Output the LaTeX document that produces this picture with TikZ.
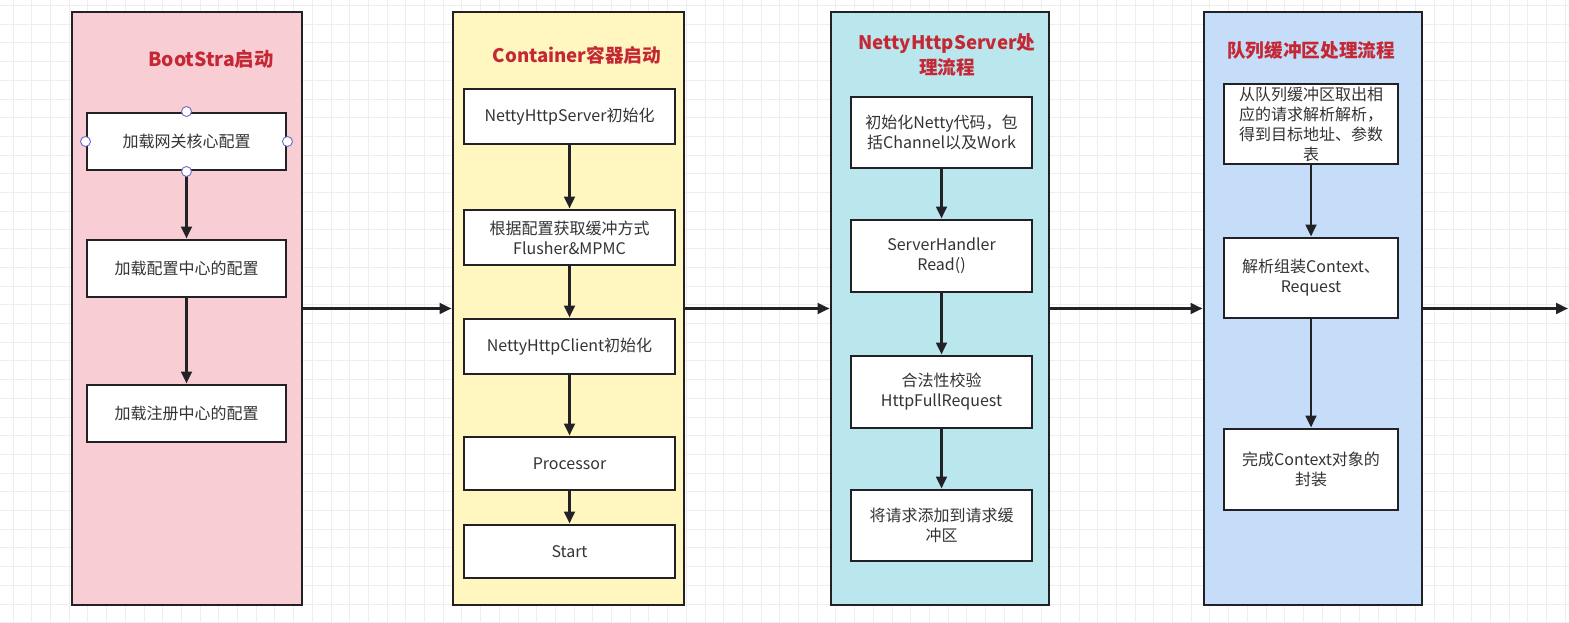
\documentclass[tikz,border=0pt]{standalone}
\usepackage{fontspec}
\setmainfont{Noto Sans CJK SC}
\usetikzlibrary{arrows.meta}
\newdimen\pxd \pxd=0.75pt
\definecolor{pinkc}{RGB}{248,206,212}
\definecolor{yellowc}{RGB}{255,246,192}
\definecolor{cyanc}{RGB}{186,231,238}
\definecolor{bluec}{RGB}{197,221,248}
\definecolor{titlec}{RGB}{196,40,52}
\definecolor{linec}{RGB}{34,34,38}
\definecolor{textc}{RGB}{51,51,51}
\definecolor{gridc}{RGB}{238,238,238}
\definecolor{handlec}{RGB}{110,110,200}
\tikzset{
  lane/.style={draw=linec, line width=2.2pt, minimum width=230\pxd, minimum height=593\pxd, inner sep=0pt},
  box/.style={draw=linec, fill=white, line width=2.2pt, align=center, inner sep=0pt,
    font=\fontsize{12}{15}\selectfont, text=textc},
  ttl/.style={font=\fontsize{14}{18.5}\selectfont\bfseries, text=titlec, align=center},
  conn/.style={draw=linec, line width=2pt, -{Triangle[length=9pt,width=8pt]}},
  handle/.style={circle, draw=handlec, fill=white, line width=0.7pt, minimum size=7.5pt, inner sep=0pt}
}
\begin{document}
\begin{tikzpicture}[x=0.75pt,y=-0.75pt]
\useasboundingbox (0,0) rectangle (1569,623);
\fill[white] (0,0) rectangle (1569,623);
% grid
\foreach \i in {0,...,83} \draw[gridc, line width=0.6pt] ({13+18.7*\i},0) -- ({13+18.7*\i},623);
\foreach \j in {0,...,33} \draw[gridc, line width=0.6pt] (0,{5.5+18.7*\j}) -- (1569,{5.5+18.7*\j});

% lanes
\node[lane, fill=pinkc] (L1) at (187,308.5) {};
\node[lane, fill=yellowc, minimum width=231\pxd] (L2) at (568.5,308.5) {};
\node[lane, fill=cyanc, minimum width=218\pxd] (L3) at (940,308.5) {};
\node[lane, fill=bluec, minimum width=218\pxd] (L4) at (1313,308.5) {};

% titles
\node[ttl, font=\fontsize{14.5}{18.5}\selectfont\bfseries] (T1) at (211,59) {BootStra启动};
\node[ttl] (T2) at (577,55) {Container容器启动};
\node[ttl] (T3) at (947,55) {NettyHttpServer处\\理流程};
\node[ttl] (T4) at (1311,50) {队列缓冲区处理流程};

% lane 1
\node[box, minimum width=199\pxd, minimum height=57\pxd] (a1) at (186.5,141.5) {加载网关核心配置};
\node[box, minimum width=199\pxd, minimum height=57\pxd] (a2) at (186.5,268.5) {加载配置中心的配置};
\node[box, minimum width=199\pxd, minimum height=57\pxd] (a3) at (186.5,413.5) {加载注册中心的配置};
\draw[conn] (a1) -- (a2);
\draw[conn] (a2) -- (a3);
\node[handle] (h1) at (a1.north) {};
\node[handle] (h2) at (a1.south) {};
\node[handle] (h3) at (a1.west) {};
\node[handle] (h4) at (a1.east) {};

% lane 2
\node[box, minimum width=211\pxd, minimum height=55\pxd] (b1) at (569.5,116.5) {NettyHttpServer初始化};
\node[box, minimum width=211\pxd, minimum height=55\pxd] (b2) at (569.5,237.5) {根据配置获取缓冲方式\\Flusher\&MPMC};
\node[box, minimum width=211\pxd, minimum height=55\pxd] (b3) at (569.5,346.5) {NettyHttpClient初始化};
\node[box, minimum width=211\pxd, minimum height=53\pxd] (b4) at (569.5,463.5) {Processor};
\node[box, minimum width=211\pxd, minimum height=53\pxd] (b5) at (569.5,551.5) {Start};
\draw[conn] (b1) -- (b2);
\draw[conn] (b2) -- (b3);
\draw[conn] (b3) -- (b4);
\draw[conn] (b4) -- (b5);

% lane 3
\node[box, minimum width=181\pxd, minimum height=71\pxd] (c1) at (941.5,132.5) {初始化Netty代码，包\\括Channel以及Work};
\node[box, minimum width=181\pxd, minimum height=72\pxd] (c2) at (941.5,256) {ServerHandler\\Read()};
\node[box, minimum width=181\pxd, minimum height=72\pxd] (c3) at (941.5,392) {合法性校验\\HttpFullRequest};
\node[box, minimum width=181\pxd, minimum height=71\pxd] (c4) at (941.5,525.5) {将请求添加到请求缓\\冲区};
\draw[conn] (c1) -- (c2);
\draw[conn] (c2) -- (c3);
\draw[conn] (c3) -- (c4);

% lane 4
\node[box, minimum width=174\pxd, minimum height=80\pxd] (d1) at (1311,124) {从队列缓冲区取出相\\应的请求解析解析，\\得到目标地址、参数\\表};
\node[box, minimum width=174\pxd, minimum height=80\pxd] (d2) at (1311,278) {解析组装Context、\\Request};
\node[box, minimum width=174\pxd, minimum height=81\pxd] (d3) at (1311,469.5) {完成Context对象的\\封装};
\draw[conn] (d1) -- (d2);
\draw[conn] (d2) -- (d3);

% lane connectors
\coordinate (out) at (1568,308.5);
\draw[conn] (L1) -- (L2);
\draw[conn] (L2) -- (L3);
\draw[conn] (L3) -- (L4);
\draw[conn] (L4.east) -- (out);
\end{tikzpicture}
\end{document}
